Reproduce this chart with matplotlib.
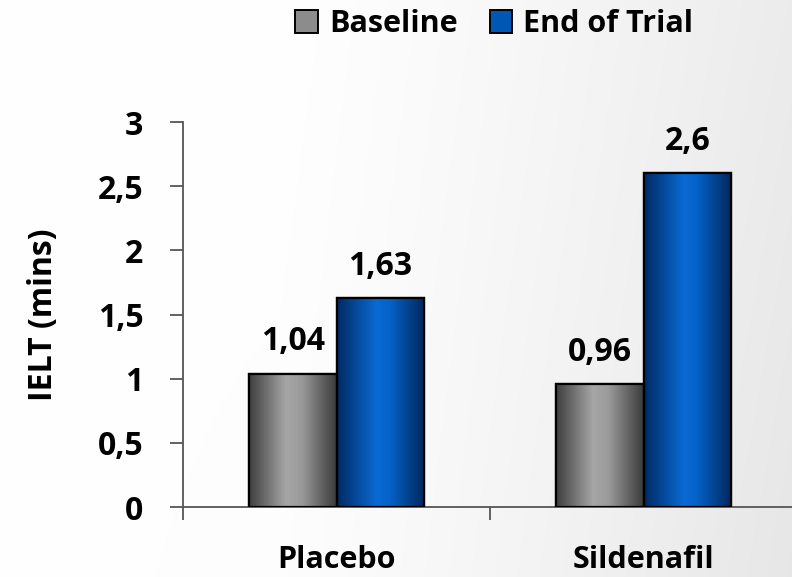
import numpy as np
import matplotlib
matplotlib.use("Agg")
import matplotlib.pyplot as plt
from matplotlib.patches import Patch
from matplotlib.colors import LinearSegmentedColormap

# Data
categories = ["Placebo", "Sildenafil"]
series_names = ["Baseline", "End of Trial"]
baseline = [1.04, 0.96]
end_of_trial = [1.63, 2.6]
y_ticks = [0, 0.5, 1, 1.5, 2, 2.5, 3]
y_tick_labels = ["0", "0,5", "1", "1,5", "2", "2,5", "3"]

plt.rcParams["font.family"] = ["Open Sans", "DejaVu Sans"]
plt.rcParams["font.weight"] = "bold"

fig = plt.figure(figsize=(7.92, 5.77), dpi=100)

# Soft white-to-grey page background
bg = fig.add_axes([0, 0, 1, 1], zorder=-10)
gx = np.linspace(0, 1, 400)
gy = np.linspace(0, 1, 300)
X, Y = np.meshgrid(gx, gy)
shade = 1.0 - 0.075 * np.clip((X - 0.35) / 0.65, 0, 1) ** 1.2 - 0.02 * Y * X
bg.imshow(np.dstack([shade] * 3), aspect="auto", extent=(0, 1, 0, 1), origin="upper")
bg.set_axis_off()

ax = fig.add_axes([0.2311, 0.1213, 0.7753, 0.6672])
ax.set_facecolor("none")

x = np.arange(len(categories))
width = 0.285

grey_cmap = LinearSegmentedColormap.from_list(
    "grey_cyl", [(0, "#3e3e3e"), (0.42, "#a6a6a6"), (0.6, "#9a9a9a"), (1, "#3a3a3a")])
blue_cmap = LinearSegmentedColormap.from_list(
    "blue_cyl", [(0, "#002a62"), (0.45, "#0a6ad4"), (0.6, "#0562c8"), (1, "#00275c")])

bars_b = ax.bar(x - width / 2, baseline, width, edgecolor="black", linewidth=1.6,
                facecolor="#8a8a8a", zorder=2)
bars_e = ax.bar(x + width / 2, end_of_trial, width, edgecolor="black", linewidth=1.6,
                facecolor="#0058b5", zorder=2)

grad = np.linspace(0, 1, 256).reshape(1, -1)
for bars, cmap in ((bars_b, grey_cmap), (bars_e, blue_cmap)):
    for bar in bars:
        x0 = bar.get_x()
        x1 = x0 + bar.get_width()
        h = bar.get_height()
        im = ax.imshow(grad, cmap=cmap, aspect="auto", extent=(x0, x1, 0, h),
                       zorder=2.5, interpolation="bicubic")
        im.set_clip_path(bar)
        # redraw outline above gradient
        ax.bar(bar.get_x() + bar.get_width() / 2, h, bar.get_width(),
               facecolor="none", edgecolor="black", linewidth=1.6, zorder=3)

def fmt(v):
    return ("%g" % v).replace(".", ",")

for bars, vals in ((bars_b, baseline), (bars_e, end_of_trial)):
    for bar, v in zip(bars, vals):
        ax.annotate(fmt(v), (bar.get_x() + bar.get_width() / 2, v),
                    xytext=(0, 11), textcoords="offset points",
                    ha="center", va="bottom", fontsize=23, fontweight="bold")

ax.set_xlim(-0.5, 1.5)
ax.set_ylim(0, 3)

ax.set_yticks(y_ticks)
ax.set_yticklabels(y_tick_labels)
ax.tick_params(axis="y", direction="out", length=9.5, width=1.3, color="#555555",
               pad=19, labelsize=23)

ax.set_xticks([-0.5, 0.5, 1.5])
ax.set_xticklabels([])
ax.tick_params(axis="x", which="major", direction="out", length=9, width=1.3,
               color="#555555")
ax.set_xticks(x, minor=True)
ax.set_xticklabels(categories, minor=True)
ax.tick_params(axis="x", which="minor", length=0, pad=27, labelsize=22)

for s in ("top", "right"):
    ax.spines[s].set_visible(False)
for s in ("left", "bottom"):
    ax.spines[s].set_color("#555555")
    ax.spines[s].set_linewidth(1.3)

ax.set_ylabel("IELT (mins)", fontsize=23, fontweight="bold")
ax.yaxis.set_label_coords(-0.2, 0.5)

handles = [Patch(facecolor="#8c8c8c", edgecolor="black", linewidth=1.4),
           Patch(facecolor="#0058b5", edgecolor="black", linewidth=1.4)]
fig.legend(handles, series_names, loc="center", bbox_to_anchor=(0.624, 0.958),
           ncol=2, frameon=False, handlelength=0.75, handleheight=0.75,
           handletextpad=0.35, columnspacing=1.05,
           prop={"weight": "bold", "size": 22})

fig.savefig("out.png", dpi=100)
